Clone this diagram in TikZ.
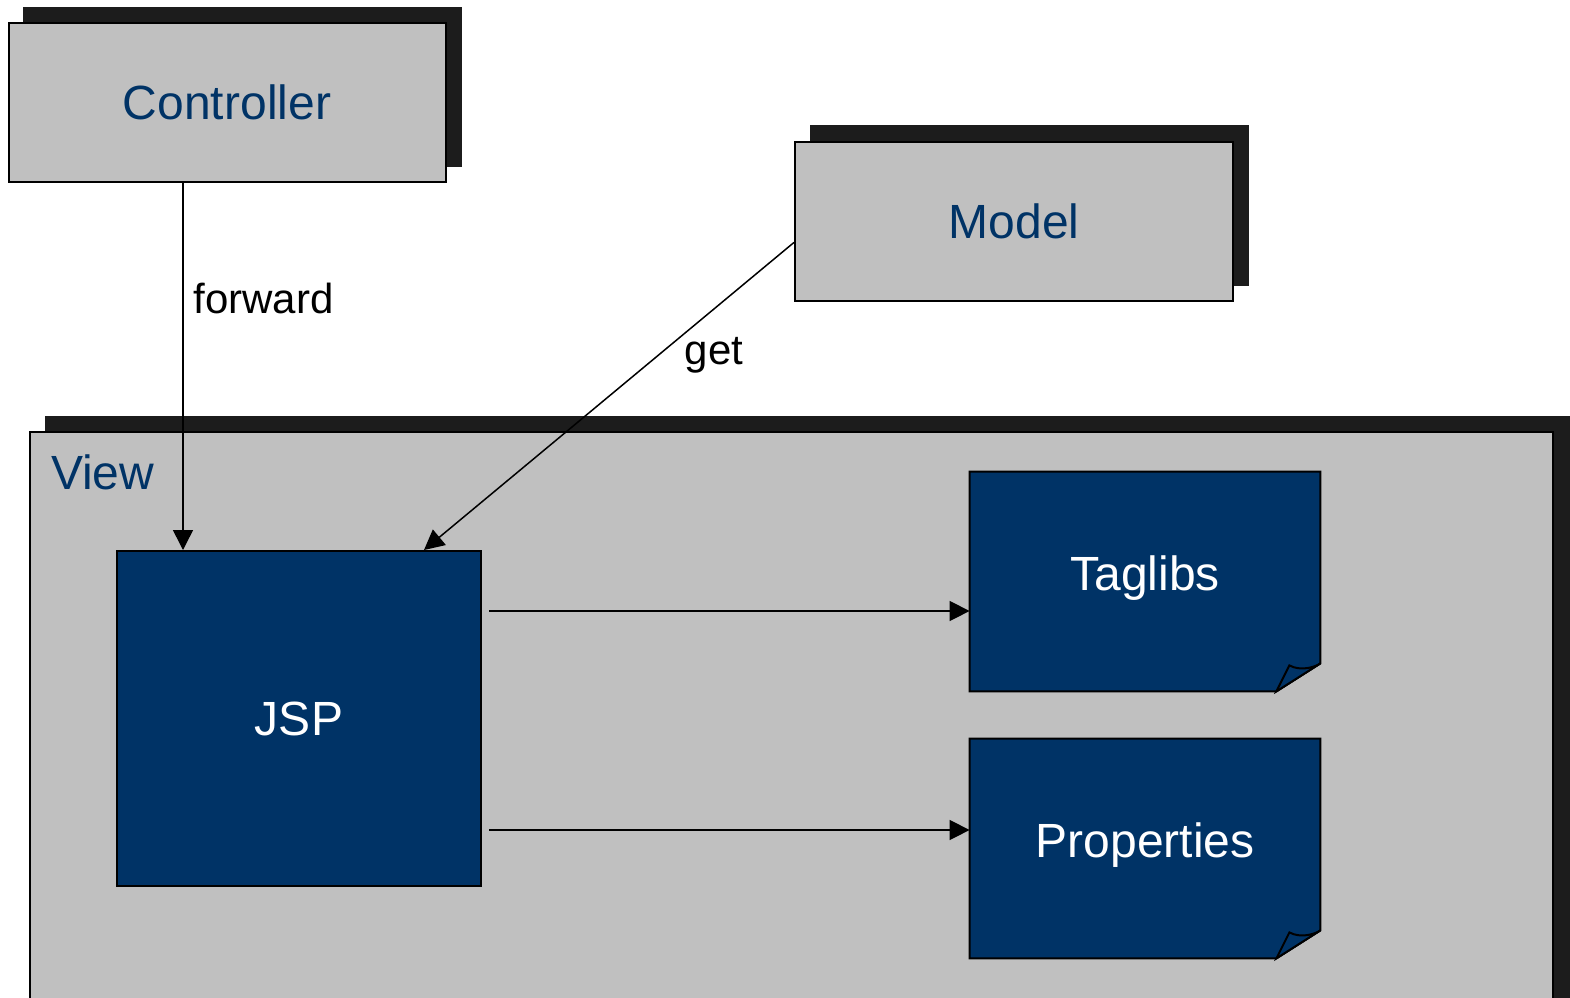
\documentclass[tikz,border=0pt]{standalone}
\usepackage{fontspec}
\setmainfont{Liberation Sans}
\usetikzlibrary{arrows.meta,calc}
\definecolor{boxgray}{RGB}{192,192,192}
\definecolor{shadowblk}{RGB}{28,28,28}
\definecolor{navy}{RGB}{0,51,102}
\begin{document}
\begin{tikzpicture}[x=0.5pt,y=-0.5pt,
  graybox/.style={draw=black,line width=1pt,fill=boxgray,text=navy,inner sep=0pt,
    font=\fontsize{24}{28}\selectfont},
  shadowbox/.style={fill=shadowblk},
  darkbox/.style={fill=navy,inner sep=0pt,text=white,font=\fontsize{24}{28}\selectfont},
  conn/.style={line width=0.75pt,-{Triangle[length=10pt,width=10pt]}},
  lbl/.style={font=\fontsize{21}{25}\selectfont,text=black,inner sep=0pt}]
\useasboundingbox (0,0) rectangle (1570,997);
\clip (0,0) rectangle (1570,997);
% shadows
\fill[shadowbox] (23,7) rectangle (462,167);
\fill[shadowbox] (810,125) rectangle (1249,286);
\fill[shadowbox] (45,416) rectangle (1580,1010);
% boxes
\node[graybox,minimum width=218.5pt,minimum height=79.5pt] (controller) at (227,102.5) {Controller};
\node[graybox,minimum width=219pt,minimum height=79.5pt] (model) at (1014,221.5) {Model};
\node[graybox,minimum width=761.5pt,minimum height=289pt] (view) at (791.5,721) {};
\node[graybox,draw=none,fill=none,anchor=west] (viewlbl) at (50,472) {View};
\node[darkbox,draw=black,line width=1pt,minimum width=182pt,minimum height=167.5pt] (jsp) at (299,718.5) {JSP};
% documents with folded corner
\node[inner sep=0pt,minimum width=175pt,minimum height=109.5pt] (taglibs) at (1145,581.5) {};
\node[inner sep=0pt,minimum width=175pt,minimum height=109.5pt] (props) at (1145,848.5) {};
\foreach \d in {taglibs,props}{
  \filldraw[fill=navy,draw=black,line width=1pt]
    (\d.north west) -- (\d.north east) -- ($(\d.south east)+(0,-28)$)
    -- ($(\d.south east)+(-44,0)$) -- (\d.south west) -- cycle;
  \filldraw[fill=navy,draw=black,line width=1pt]
    ($(\d.south east)+(-44,0)$) -- ($(\d.south east)+(-31,-26)$)
    .. controls ($(\d.south east)+(-20,-20)$) and ($(\d.south east)+(-6,-24)$) .. ($(\d.south east)+(0,-28)$)
    -- cycle;
}
\node[darkbox] (taglibstxt) at (1145,578) {Taglibs};
\node[darkbox] (propstxt) at (1145,845) {Properties};
% connectors
\coordinate (fx) at (183,0);
\draw[conn] (controller.south -| fx) -- (jsp.north -| fx);
\node[lbl,anchor=west] (fwd) at (193,298) {forward};
\draw[conn] ($(model.north west)!0.63!(model.south west)$) -- ($(jsp.north west)+(308,0)$);
\node[lbl] (get) at (714,355) {get};
\coordinate (ty) at (0,611);
\coordinate (py) at (0,830);
\draw[conn] ($(jsp.east |- ty)+(7,0)$) -- (taglibs.west |- ty);
\draw[conn] ($(jsp.east |- py)+(7,0)$) -- (props.west |- py);
\end{tikzpicture}
\end{document}
